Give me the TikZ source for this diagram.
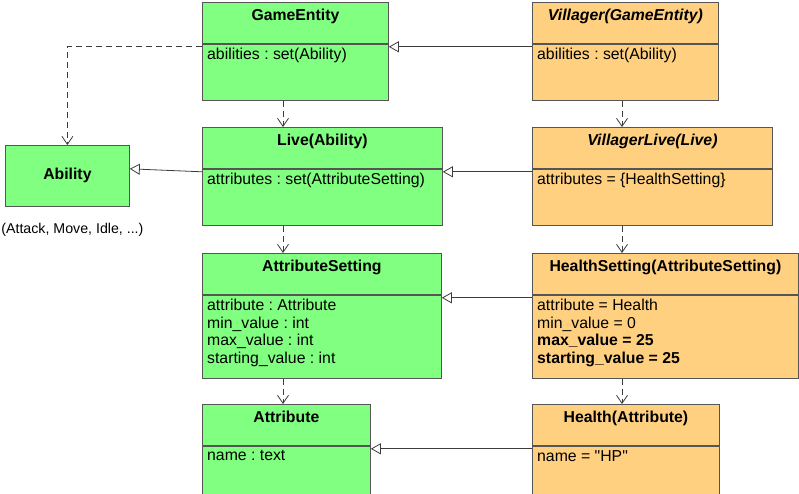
\documentclass[tikz,border=0pt]{standalone}
\usepackage{fontspec}
\setmainfont{Liberation Sans}[Ligatures=TeXOff]
\frenchspacing
\usetikzlibrary{arrows.meta,positioning}
\definecolor{basegreen}{RGB}{128,255,128}
\definecolor{vilorange}{RGB}{255,208,128}
\definecolor{boxline}{RGB}{85,85,85}
\definecolor{conline}{RGB}{60,60,60}

\begin{document}
\begin{tikzpicture}[x=1pt,y=-1pt]
        \tikzset{hdr/.style={draw=boxline, line width=0.8pt, anchor=north west, minimum height=41pt,
                text height=11pt, text depth=16pt, font=\fontsize{15.8}{17.5}\selectfont\bfseries},
        cmp/.style={draw=boxline, line width=0.8pt},
        attrs/.style={anchor=north west, inner sep=0pt, align=left, font=\fontsize{15.8}{17.5}\selectfont},
        inherit/.style={draw=conline, line width=0.8pt, -{Triangle[open, length=10pt, width=11pt, fill=white]}},
        uses/.style={draw=conline, line width=0.8pt, dash pattern=on 6pt off 4pt, -{Straight Barb[length=8pt, width=11pt]}}
        }
        \useasboundingbox (0,0) rectangle (799,493);

%% base classes (left column)
        \node [hdr, fill=basegreen, minimum width=186pt] (ge) at (202,2) {GameEntity};
        \node [cmp, fill=basegreen, minimum width=186pt, minimum height=56pt, below=0pt of ge] (ge-b) {};
        \node [below right=4.5pt and 5pt of ge-b.north west, attrs] (ge-a) {abilities : set(Ability)};

        \node [hdr, fill=basegreen, minimum width=240pt] (live) at (202,127) {Live(Ability)};
        \node [cmp, fill=basegreen, minimum width=240pt, minimum height=56pt, below=0pt of live] (live-b) {};
        \node [below right=4.5pt and 5pt of live-b.north west, attrs] (live-a) {attributes : set(AttributeSetting)};

        \node [hdr, fill=basegreen, minimum width=239pt] (aset) at (202,253) {AttributeSetting};
        \node [cmp, fill=basegreen, minimum width=239pt, minimum height=83pt, below=0pt of aset] (aset-b) {};
        \node [below right=4.5pt and 5pt of aset-b.north west, attrs] (aset-a) {attribute : Attribute\\min\_value : int\\max\_value : int\\starting\_value : int};

        \node [hdr, fill=basegreen, minimum width=168pt] (attr) at (202,404) {Attribute};
        \node [cmp, fill=basegreen, minimum width=168pt, minimum height=50pt, below=0pt of attr] (attr-b) {};
        \node [below right=4.5pt and 5pt of attr-b.north west, attrs] (attr-a) {name : text};

        \node [cmp, fill=basegreen, anchor=north west, minimum width=124pt, minimum height=61pt,
               font=\fontsize{15.8}{17.5}\selectfont\bfseries] (abil) at (5,145) {Ability};
        \node [below=27pt of abil.south, anchor=base, xshift=5pt, font=\fontsize{14.2}{16}\selectfont] (abil-n) {(Attack, Move, Idle, ...)};

%% villager classes (right column)
        \node [hdr, fill=vilorange, minimum width=186pt] (vil) at (532,2) {\textit{Villager(GameEntity)}};
        \node [cmp, fill=vilorange, minimum width=186pt, minimum height=56pt, below=0pt of vil] (vil-b) {};
        \node [below right=4.5pt and 5pt of vil-b.north west, attrs] (vil-a) {abilities : set(Ability)};

        \node [hdr, fill=vilorange, minimum width=240pt] (vlive) at (532,127) {\textit{VillagerLive(Live)}};
        \node [cmp, fill=vilorange, minimum width=240pt, minimum height=56pt, below=0pt of vlive] (vlive-b) {};
        \node [below right=4.5pt and 5pt of vlive-b.north west, attrs] (vlive-a) {attributes = \{HealthSetting\}};

        \node [hdr, fill=vilorange, minimum width=266pt] (hset) at (532,253) {HealthSetting(AttributeSetting)};
        \node [cmp, fill=vilorange, minimum width=266pt, minimum height=83pt, below=0pt of hset] (hset-b) {};
        \node [below right=4.5pt and 5pt of hset-b.north west, attrs] (hset-a) {attribute = Health\\min\_value = 0\\\textbf{max\_value = 25}\\\textbf{starting\_value = 25}};

        \node [hdr, fill=vilorange, minimum width=187pt] (hea) at (532,404) {Health(Attribute)};
        \node [cmp, fill=vilorange, minimum width=187pt, minimum height=50pt, below=0pt of hea] (hea-b) {};
        \node [below right=4.5pt and 5pt of hea-b.north west, attrs] (hea-a) {name = "HP"};

%% paths
        \draw [uses] ([yshift=-3pt]ge-b.north west) -| (abil.north);
        \draw [uses] ([xshift=81pt]ge-b.south west) -- ([xshift=81pt]live.north west);
        \draw [uses] ([xshift=81pt]live-b.south west) -- ([xshift=81pt]aset.north west);
        \draw [uses] ([xshift=81pt]aset-b.south west) -- ([xshift=81pt]attr.north west);
        \draw [uses] ([xshift=90pt]vil-b.south west) -- ([xshift=90pt]vlive.north west);
        \draw [uses] ([xshift=90pt]vlive-b.south west) -- ([xshift=90pt]hset.north west);
        \draw [uses] ([xshift=90pt]hset-b.south west) -- ([xshift=90pt]hea.north west);

        \draw [inherit] ([yshift=-3pt]vil-b.north west) -- ([yshift=-3pt]ge-b.north east);
        \draw [inherit] ([yshift=-3pt]vlive-b.north west) -- ([yshift=-3pt]live-b.north east);
        \draw [inherit] ([yshift=-3pt]live-b.north west) -- (live-b.north west -| abil.east);
        \draw [inherit] ([yshift=-3pt]hset-b.north west) -- ([yshift=-3pt]aset-b.north east);
        \draw [inherit] ([yshift=-3pt]hea-b.north west) -- ([yshift=-3pt]attr-b.north east);
    \end{tikzpicture}
\end{document}
